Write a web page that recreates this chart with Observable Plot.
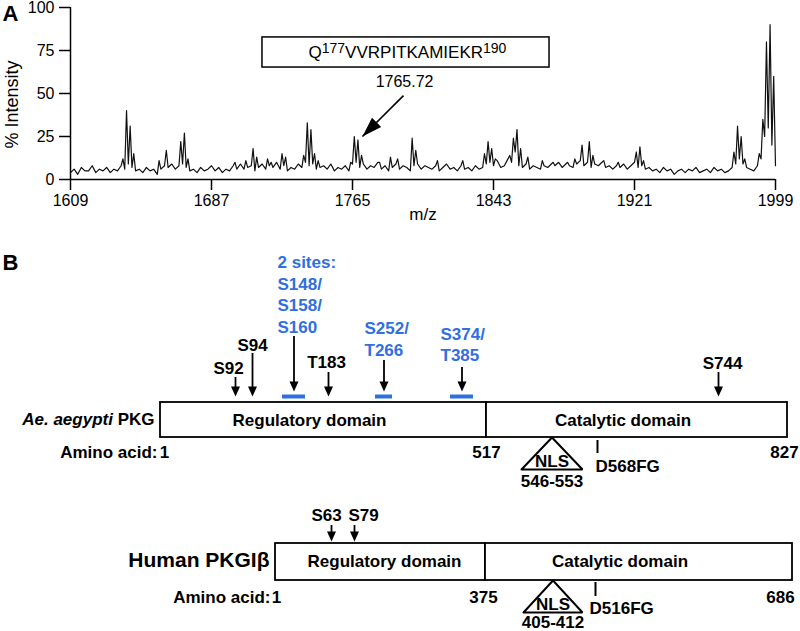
<!DOCTYPE html>
<html><head><meta charset="utf-8">
<script src="https://cdn.jsdelivr.net/npm/d3@7"></script>
<script src="https://cdn.jsdelivr.net/npm/@observablehq/plot@0.6"></script>
<style>
html,body{margin:0;padding:0;background:#fff;}
#chart{width:800px;height:631px;overflow:hidden;background:#fff;}
#chart svg{display:block;}
</style></head><body><div id="chart"></div>
<script>
// ================= DATA =================
// Panel A : MS spectrum
const xTickValues = [1609, 1687, 1765, 1843, 1921, 1999];
const yTickValues = [0, 25, 50, 75, 100];
// baseline read every 2 m/z from 1609 to 1999
const baselineIntensity = [
  4,6,3,7,5,5,8,4,6,5,
  7,4,6,5,8,6,9,7,5,6,
  4,7,5,6,3,6,8,7,9,6,
  8,9,7,5,6,4,7,5,6,8,
  5,7,4,6,5,8,6,9,6,7,
  8,5,7,9,6,8,7,10,6,8,
  5,7,6,9,7,10,8,9,6,7,
  8,6,9,5,7,6,8,5,9,10,
  7,9,6,8,7,10,6,8,5,7,
  9,6,8,7,5,8,9,6,8,7,
  6,8,5,7,9,6,7,5,8,6,
  7,5,8,6,7,9,10,8,11,7,
  8,12,10,16,8,7,9,6,8,7,
  6,8,7,9,8,10,7,9,8,7,
  9,11,8,10,7,9,8,10,7,8,
  6,8,7,9,6,8,10,7,8,6,
  7,5,6,4,7,5,6,3,5,6,
  4,6,5,7,4,5,6,4,7,5,
  6,4,5,7,9,12,9,7,6,5,
  8,12,25,30,20,8
];
const peakMz = [1638,1640,1642,1644, 1658,1662,1670,1672,1674, 1700,1706,1710,1712,1718,1720,1726,1728,
  1738,1740,1742,1744,1746, 1764,1766,1768,1770, 1780,1786,1790,1798,1800, 1812,1826, 1838,1840,1842,1844,
  1852,1854,1856,1858,1862, 1870,1876,1884,1888,1892,1896,1898, 1904,1912,1922,1924,1926,
  1976,1978,1980,1982, 1990,1992,1994,1996,1998];
const peakIntensity = [12,40,31,15, 11,17,22,27,12, 10,11,18,13,12,10,15,13,
  14,33,29,15,11, 10,25,23,14, 10,13,12,24,17, 11,11, 15,22,18,12,
  14,24,29,18,13, 11,10,10,12,20,22,14, 11,10,16,19,11,
  16,31,25,12, 15,35,80,90,60];
const peptideParts = ["Q", "177", "VVRPITKAMIEKR", "190"];
const precursorLabel = "1765.72";

// Panel B : Ae. aegypti PKG
const aeName = "Ae. aegypti PKG";
const aeDomainNames = ["Regulatory domain", "Catalytic domain"];
const aeDomainStart = [1, 517];
const aeDomainEnd = [517, 827];
const aeSites = ["S92", "S94", "T183", "S744"];
const aeSitePos = [92, 94, 183, 744];
const aeGroupLabels = ["2 sites:\nS148/\nS158/\nS160", "S252/\nT266", "S374/\nT385"];
const aeGroupFrom = [148, 252, 374];
const aeGroupTo = [160, 266, 385];
const aeNLS = [546, 553];
const aeDFG = 568, aeDFGLabel = "D568FG";
const aeAAticks = [1, 517, 827];

// Panel B : Human PKGIβ
const huName = "Human PKGIβ";
const huDomainNames = ["Regulatory domain", "Catalytic domain"];
const huDomainStart = [1, 375];
const huDomainEnd = [375, 686];
const huSites = ["S63", "S79"];
const huSitePos = [63, 79];
const huNLS = [405, 412];
const huDFG = 516, huDFGLabel = "D516FG";
const huAAticks = [1, 375, 686];

// ================= LAYOUT / STYLE =================
const W = 800;
const A_H = 235, B1_TOP = 235, B1_H = 255, B2_TOP = 490, B2_H = 141;
const FONT = "'Liberation Sans', Arial, Helvetica, sans-serif";
const BLUE = "#2f6fe0";
// schematic (not to scale) placement of residues along each bar
const aeKnotsAA = [1, 92, 94, 148, 160, 183, 252, 266, 374, 385, 517, 546, 553, 568, 744, 827];
const aeKnotsPx = [160, 235, 252, 282, 305, 328, 375, 392, 450, 473, 486, 521, 582, 597, 718, 787];
const huKnotsAA = [1, 63, 79, 375, 405, 412, 516, 686];
const huKnotsPx = [275, 331, 354, 485, 523, 582, 595, 792];

const LA = { // annotation in panel A, data units
  boxX1: 1715.2, boxX2: 1874, boxY1: 65.1, boxY2: 82.6, textX: 1795.4, textY: 73.8,
  labelX: 1793.8, labelY: 57, tailX: 1793.2, tailY: 48.8, tipX: 1770.5, tipY: 25
};
const LAE = {
  boxTop: 402, boxBottom: 437, nameY: 419, domainY: 420, domainDx: [-14, -14], aaY: 452,
  aaDx: {1: 4, 517: 0, 827: -3}, aaLabelDx: -3,
  siteLabelY: {S92: 368, S94: 345, T183: 362, S744: 363},
  siteTailY: {S92: 377, S94: 353, T183: 372, S744: 372},
  siteLabelDx: {S92: -7, S94: 0, T183: -2, S744: 4},
  tipY: 396, barY: 396, blueTipY: 391,
  groupLabelY: [293, 337.5, 343], groupLabelDx: [-16.5, -19.5, -21.5], groupTailY: [336, 360, 367],
  nlsBase: 469, nlsTextY: 461, nlsRangeY: 481, dfgY1: 440, dfgY2: 453, dfgTextY: 466, dfgDx: -2,
  bY: 262
};
const LHU = {
  boxTop: 543, boxBottom: 580, nameY: 560, domainY: 561, domainDx: [4, -19], aaY: 597,
  aaDx: {1: 1, 375: -2, 686: -12}, aaLabelDx: -5,
  siteLabelY: {S63: 515, S79: 515}, siteTailY: {S63: 525, S79: 525},
  siteLabelDx: {S63: -5, S79: 9}, tipY: 541,
  nlsBase: 612, nlsTextY: 604, nlsRangeY: 622, dfgY1: 582, dfgY2: 596, dfgTextY: 608, dfgDx: -6
};

function arrowHead(len, wid) {
  return {draw(ctx) { ctx.moveTo(0, 0); ctx.lineTo(-wid / 2, -len); ctx.lineTo(wid / 2, -len); ctx.closePath(); }};
}
const headB = arrowHead(10, 9);
const headA = arrowHead(20, 13);
const baseStyle = {fontFamily: FONT, color: "#000", background: "#fff", overflow: "visible"};

// ================= PANEL A =================
const baselineMz = d3.range(1609, 2000, 2);
const spectrum = baselineMz.map((mz, i) => ({mz, v: baselineIntensity[i]}))
  .concat(peakMz.map((mz, i) => ({mz, v: peakIntensity[i]})))
  .sort((a, b) => a.mz - b.mz);

const plotA = Plot.plot({
  width: W, height: A_H,
  marginLeft: 70, marginRight: 25, marginTop: 7, marginBottom: A_H - 179,
  style: {...baseStyle, fontSize: "16px"},
  x: {domain: [1609, 1999], ticks: xTickValues, tickSize: 11, tickPadding: 4, label: null, tickFormat: d => String(d)},
  y: {domain: [0, 100], ticks: yTickValues, tickSize: 11, tickPadding: 5, label: null},
  marks: [
    Plot.line(spectrum, {x: "mz", y: "v", stroke: "#111", strokeWidth: 1.2}),
    Plot.ruleY([0], {strokeWidth: 1.5}),
    Plot.ruleX([1609], {strokeWidth: 1.5}),
    Plot.rect([LA], {x1: "boxX1", x2: "boxX2", y1: "boxY1", y2: "boxY2", fill: "white", stroke: "black", strokeWidth: 1.5}),
    Plot.text([peptideParts.join("")], {x: LA.textX, y: LA.textY, text: d => d, fontSize: 17, textAnchor: "middle", lineAnchor: "middle"}),
    Plot.text([precursorLabel], {x: LA.labelX, y: LA.labelY, text: d => d, fontSize: 16, textAnchor: "middle", lineAnchor: "middle"}),
    Plot.link([LA], {x1: "tailX", y1: "tailY", x2: "tipX", y2: "tipY", strokeWidth: 1.6}),
    Plot.dot([LA], {x: "tipX", y: "tipY", symbol: headA, r: 3, fill: "black", stroke: "none", rotate: 45}),
    Plot.text(["A"], {frameAnchor: "top-left", dx: -60, dy: 6, text: d => d, fontWeight: "bold", fontSize: 22, textAnchor: "middle", lineAnchor: "middle"}),
    Plot.text(["% Intensity"], {frameAnchor: "left", dx: -58, dy: 11, text: d => d, rotate: -90, fontSize: 18, textAnchor: "middle", lineAnchor: "middle"}),
    Plot.text(["m/z"], {frameAnchor: "bottom", dy: 35, text: d => d, fontSize: 17, textAnchor: "middle", lineAnchor: "middle"})
  ]
});

// ================= PANEL B helper =================
function proteinPlot(cfg) {
  const {top, h, knotsAA, knotsPx, L, name, nameSize, domNames, domStart, domEnd, sites, sitePos,
         groups, nls, dfg, dfgLabel, aaTicks, extra} = cfg;
  const sx = d3.scaleLinear(knotsAA, knotsPx);   // schematic residue -> position
  const doms = domNames.map((n, i) => ({n, s: domStart[i], e: domEnd[i], dx: L.domainDx[i],
    mid: sx.invert((sx(domStart[i]) + sx(domEnd[i])) / 2)}));
  const siteData = sites.map((s, i) => ({s, p: sitePos[i]}));
  const nlsMid = (nls[0] + nls[1]) / 2;
  const tri = [{x: nls[0], y: L.nlsBase}, {x: nlsMid, y: L.boxBottom}, {x: nls[1], y: L.nlsBase}, {x: nls[0], y: L.nlsBase}];
  const first = aaTicks[0];
  const bold = {fontWeight: "bold", fontSize: 17, lineAnchor: "middle"};
  const marks = [
    Plot.rect(doms, {x1: "s", x2: "e", y1: L.boxTop, y2: L.boxBottom, fill: "white", stroke: "black", strokeWidth: 1.8}),
    Plot.text([name], {x: first, y: L.nameY, text: d => d, dx: -6, fontWeight: "bold", fontSize: nameSize, textAnchor: "end", lineAnchor: "middle"}),
    Plot.ruleX(siteData, {x: "p", y1: d => L.siteTailY[d.s], y2: L.tipY - 6, strokeWidth: 1.8}),
    Plot.dot(siteData, {x: "p", y: L.tipY, symbol: headB, r: 3, fill: "black", stroke: "none"}),
    Plot.line(tri, {x: "x", y: "y", stroke: "black", strokeWidth: 2, strokeLinejoin: "miter"}),
    Plot.text(["NLS"], {x: nlsMid, y: L.nlsTextY, text: d => d, ...bold, textAnchor: "middle"}),
    Plot.text([nls.join("-")], {x: nlsMid, y: L.nlsRangeY, text: d => d, ...bold, textAnchor: "middle"}),
    Plot.ruleX([dfg], {y1: L.dfgY1, y2: L.dfgY2, strokeWidth: 2}),
    Plot.text([dfgLabel], {x: dfg, y: L.dfgTextY, dx: L.dfgDx, text: d => d, ...bold, textAnchor: "start"}),
    Plot.text(["Amino acid:"], {x: first, y: L.aaY, dx: L.aaLabelDx, text: d => d, ...bold, textAnchor: "end"})
  ];
  aaTicks.forEach(t => marks.push(Plot.text([t], {x: t, y: L.aaY, dx: L.aaDx[t], text: d => String(d), ...bold, textAnchor: "middle"})));
  doms.forEach(d => marks.push(Plot.text([d], {x: "mid", y: L.domainY, dx: d.dx, text: "n", ...bold, textAnchor: "middle"})));
  siteData.forEach(d => marks.push(Plot.text([d], {x: "p", y: L.siteLabelY[d.s], dx: L.siteLabelDx[d.s], text: "s", ...bold, textAnchor: "middle"})));
  if (groups) {
    const g = groups.labels.map((lab, i) => ({lab, f: groups.from[i], t: groups.to[i], i,
      m: sx.invert((sx(groups.from[i]) + sx(groups.to[i])) / 2)}));
    marks.push(Plot.ruleY(g, {x1: "f", x2: "t", y: L.barY, stroke: BLUE, strokeWidth: 4}));
    marks.push(Plot.ruleX(g, {x: "m", y1: d => L.groupTailY[d.i], y2: L.blueTipY - 6, strokeWidth: 1.8}));
    marks.push(Plot.dot(g, {x: "m", y: L.blueTipY, symbol: headB, r: 3, fill: "black", stroke: "none"}));
    g.forEach(d => marks.push(Plot.text([d], {x: "m", y: L.groupLabelY[d.i], dx: L.groupLabelDx[d.i], text: "lab", fill: BLUE, ...bold, lineHeight: 1.28, textAnchor: "start"})));
  }
  if (extra) marks.push(...extra);
  return Plot.plot({
    width: W, height: h, margin: 0,
    style: {...baseStyle, fontSize: "17px"},
    x: {transform: sx, domain: [0, W], range: [0, W], axis: null},
    y: {domain: [top, top + h], range: [0, h], axis: null},
    marks
  });
}

const plotB1 = proteinPlot({
  top: B1_TOP, h: B1_H, knotsAA: aeKnotsAA, knotsPx: aeKnotsPx, L: LAE, name: aeName, nameSize: 17,
  domNames: aeDomainNames, domStart: aeDomainStart, domEnd: aeDomainEnd, sites: aeSites, sitePos: aeSitePos,
  groups: {labels: aeGroupLabels, from: aeGroupFrom, to: aeGroupTo}, nls: aeNLS, dfg: aeDFG, dfgLabel: aeDFGLabel,
  aaTicks: aeAAticks,
  extra: [Plot.text(["B"], {frameAnchor: "top-left", dx: 10, dy: LAE.bY - B1_TOP, text: d => d, fontWeight: "bold", fontSize: 22, textAnchor: "middle", lineAnchor: "middle"})]
});
const plotB2 = proteinPlot({
  top: B2_TOP, h: B2_H, knotsAA: huKnotsAA, knotsPx: huKnotsPx, L: LHU, name: huName, nameSize: 21,
  domNames: huDomainNames, domStart: huDomainStart, domEnd: huDomainEnd, sites: huSites, sitePos: huSitePos,
  groups: null, nls: huNLS, dfg: huDFG, dfgLabel: huDFGLabel, aaTicks: huAAticks
});

const chart = document.getElementById("chart");
chart.append(plotA, plotB1, plotB2);

// heavier axis ticks, as in the reference
d3.select(plotA).selectAll('g[aria-label="x-axis tick"], g[aria-label="y-axis tick"], g[aria-label="x-axis"] line, g[aria-label="y-axis"] line')
  .attr("stroke-width", 1.5);

// rich text: superscripts and italics
function retext(svg, match, build) {
  d3.select(svg).selectAll("text").filter(function () { return this.textContent === match; })
    .each(function () { const t = d3.select(this); t.text(null); build(t); });
}
retext(plotA, peptideParts.join(""), t => {
  t.append("tspan").text(peptideParts[0]);
  t.append("tspan").attr("dy", -5).attr("font-size", 14).text(peptideParts[1]);
  t.append("tspan").attr("dy", 5).attr("font-size", 17).text(peptideParts[2]);
  t.append("tspan").attr("dy", -5).attr("font-size", 14).text(peptideParts[3]);
});
retext(plotB1, aeName, t => {
  t.append("tspan").attr("font-style", "italic").text("Ae. aegypti");
  t.append("tspan").text(" PKG");
});
</script></body></html>
